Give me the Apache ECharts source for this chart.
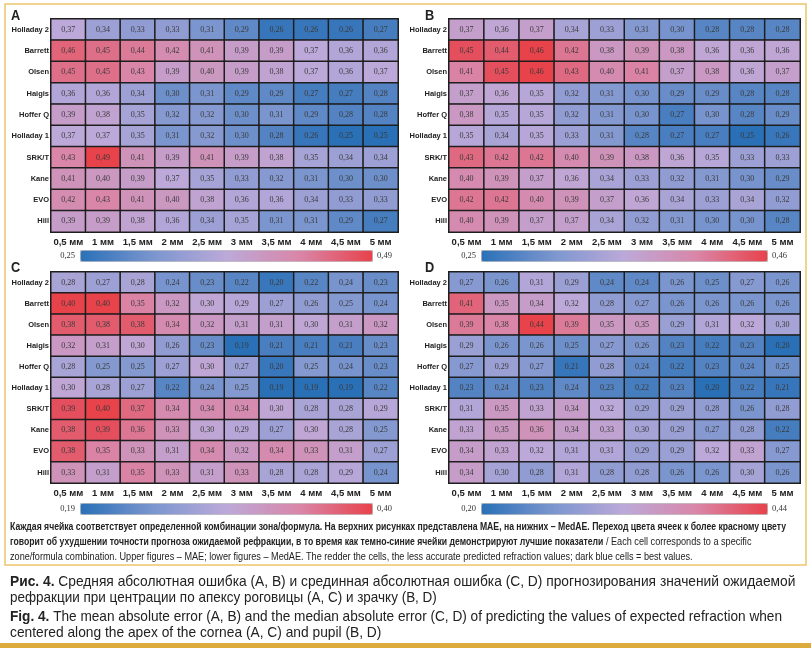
<!DOCTYPE html>
<html><head><meta charset="utf-8">
<script src="https://cdn.jsdelivr.net/npm/echarts@6/dist/echarts.min.js"></script>
<style>html,body{margin:0;padding:0;background:#fff}#c{width:811px;height:648px}</style>
</head><body><div id="c"></div>
<script>
const formulas = ['Holladay 2','Barrett','Olsen','Haigis','Hoffer Q','Holladay 1','SRK/T','Kane','EVO','Hill'];
const zones = ['0,5 мм','1 мм','1,5 мм','2 мм','2,5 мм','3 мм','3,5 мм','4 мм','4,5 мм','5 мм'];

const maeApex = [
 [0.37,0.34,0.33,0.33,0.31,0.29,0.26,0.26,0.26,0.27],
 [0.46,0.45,0.44,0.42,0.41,0.39,0.39,0.37,0.36,0.36],
 [0.45,0.45,0.43,0.39,0.40,0.39,0.38,0.37,0.36,0.37],
 [0.36,0.36,0.34,0.30,0.31,0.29,0.29,0.27,0.27,0.28],
 [0.39,0.38,0.35,0.32,0.32,0.30,0.31,0.29,0.28,0.28],
 [0.37,0.37,0.35,0.31,0.32,0.30,0.28,0.26,0.25,0.25],
 [0.43,0.49,0.41,0.39,0.41,0.39,0.38,0.35,0.34,0.34],
 [0.41,0.40,0.39,0.37,0.35,0.33,0.32,0.31,0.30,0.30],
 [0.42,0.43,0.41,0.40,0.38,0.36,0.36,0.34,0.33,0.33],
 [0.39,0.39,0.38,0.36,0.34,0.35,0.31,0.31,0.29,0.27]
];
const maePupil = [
 [0.37,0.36,0.37,0.34,0.33,0.31,0.30,0.28,0.28,0.28],
 [0.45,0.44,0.46,0.42,0.38,0.39,0.38,0.36,0.36,0.36],
 [0.41,0.45,0.46,0.43,0.40,0.41,0.37,0.38,0.36,0.37],
 [0.37,0.36,0.35,0.32,0.31,0.30,0.29,0.29,0.28,0.28],
 [0.38,0.35,0.35,0.32,0.31,0.30,0.27,0.30,0.28,0.29],
 [0.35,0.34,0.35,0.33,0.31,0.28,0.27,0.27,0.25,0.26],
 [0.43,0.42,0.42,0.40,0.39,0.38,0.36,0.35,0.33,0.33],
 [0.40,0.39,0.37,0.36,0.34,0.33,0.32,0.31,0.30,0.29],
 [0.42,0.42,0.40,0.39,0.37,0.36,0.34,0.33,0.34,0.32],
 [0.40,0.39,0.37,0.37,0.34,0.32,0.31,0.30,0.30,0.28]
];
const medaeApex = [
 [0.28,0.27,0.28,0.24,0.23,0.22,0.20,0.22,0.24,0.23],
 [0.40,0.40,0.35,0.32,0.30,0.29,0.27,0.26,0.25,0.24],
 [0.38,0.38,0.38,0.34,0.32,0.31,0.31,0.30,0.31,0.32],
 [0.32,0.31,0.30,0.26,0.23,0.19,0.21,0.21,0.21,0.23],
 [0.28,0.25,0.25,0.27,0.30,0.27,0.20,0.25,0.24,0.23],
 [0.30,0.28,0.27,0.22,0.24,0.25,0.19,0.19,0.19,0.22],
 [0.39,0.40,0.37,0.34,0.34,0.34,0.30,0.28,0.28,0.29],
 [0.38,0.39,0.36,0.33,0.30,0.29,0.27,0.30,0.28,0.25],
 [0.38,0.35,0.33,0.31,0.34,0.32,0.34,0.33,0.31,0.27],
 [0.33,0.31,0.35,0.33,0.31,0.33,0.28,0.28,0.29,0.24]
];
const medaePupil = [
 [0.27,0.26,0.31,0.29,0.24,0.24,0.26,0.25,0.27,0.26],
 [0.41,0.35,0.34,0.32,0.28,0.27,0.26,0.26,0.26,0.26],
 [0.39,0.38,0.44,0.39,0.35,0.35,0.29,0.31,0.32,0.30],
 [0.29,0.26,0.26,0.25,0.27,0.26,0.23,0.22,0.23,0.20],
 [0.27,0.29,0.27,0.21,0.28,0.24,0.22,0.23,0.24,0.25],
 [0.23,0.24,0.23,0.24,0.23,0.22,0.23,0.20,0.22,0.21],
 [0.31,0.35,0.33,0.34,0.32,0.29,0.29,0.28,0.26,0.28],
 [0.33,0.35,0.36,0.34,0.33,0.30,0.29,0.27,0.28,0.22],
 [0.34,0.33,0.32,0.31,0.31,0.29,0.29,0.32,0.33,0.27],
 [0.34,0.30,0.28,0.31,0.28,0.28,0.26,0.26,0.30,0.26]
];
const scaleMin = [0.25, 0.25, 0.19, 0.20];
const scaleMax = [0.49, 0.46, 0.40, 0.44];
const panelLetters = ['A','B','C','D'];

const matrices = [maeApex, maePupil, medaeApex, medaePupil];
const palette = ['#2a70b7','#7b96cf','#bca9d9','#d986a8','#e8424b'];
const dark = '#1e1e1e';
const sans = "'Liberation Sans',sans-serif";

const layout = [
  {left:51, top:19, width:347, height:213, barLeft:80, barLen:292, barTop:250, letterX:11, letterY:8},
  {left:449, top:19, width:351, height:213, barLeft:481, barLen:286, barTop:250, letterX:425, letterY:8},
  {left:51, top:272, width:347, height:211, barLeft:80, barLen:292, barTop:503, letterX:11, letterY:260},
  {left:449, top:272, width:351, height:211, barLeft:481, barLen:286, barTop:503, letterX:425, letterY:260}
];

const fmt = v => v.toFixed(2).replace('.', ',');
const grids=[], xAxes=[], yAxes=[], series=[], vms=[], graphics=[];
matrices.forEach((m, i) => {
  const L = layout[i];
  grids.push({left:L.left, top:L.top, width:L.width, height:L.height, show:true, borderColor:dark, borderWidth:2, backgroundColor:dark});
  xAxes.push({type:'category', gridIndex:i, data:zones, axisLine:{show:false}, axisTick:{show:false}, splitLine:{show:false},
    axisLabel:{interval:0, margin:5, fontFamily:sans, fontWeight:'bold', fontSize:9.5, color:'#222'}});
  yAxes.push({type:'category', gridIndex:i, data:formulas, inverse:true, axisLine:{show:false}, axisTick:{show:false}, splitLine:{show:false},
    axisLabel:{interval:0, margin:2, fontFamily:sans, fontWeight:'bold', fontSize:7.5, color:'#222'}});
  const data = [];
  m.forEach((row, r) => row.forEach((v, c) => data.push([c, r, v])));
  series.push({type:'heatmap', xAxisIndex:i, yAxisIndex:i, data:data,
    itemStyle:{borderColor:dark, borderWidth:1.5},
    label:{show:true, formatter:p => fmt(p.value[2]), fontFamily:"'Liberation Serif',serif", fontSize:8, color:'#3a3a3a'},
    emphasis:{disabled:true}});
  vms.push({type:'continuous', seriesIndex:i, min:scaleMin[i], max:scaleMax[i], orient:'horizontal',
    left:L.barLeft, top:L.barTop, itemWidth:11, itemHeight:L.barLen, calculable:false, realtime:false, padding:0,
    borderColor:'#bbb', borderWidth:1, showLabel:false, text:null, inRange:{color:palette}});
  graphics.push({type:'text', x:L.barLeft-5, y:L.barTop+6, style:{text:fmt(scaleMin[i]), fontFamily:"'Liberation Serif',serif", fontSize:8.5, fill:'#333', align:'right', verticalAlign:'middle'}});
  graphics.push({type:'text', x:L.barLeft+L.barLen+5, y:L.barTop+6, style:{text:fmt(scaleMax[i]), fontFamily:"'Liberation Serif',serif", fontSize:8.5, fill:'#333', align:'left', verticalAlign:'middle'}});
  graphics.push({type:'text', x:L.letterX, y:L.letterY, scaleX:0.85, style:{text:panelLetters[i], fontFamily:sans, fontWeight:'bold', fontSize:15, fill:'#222'}});
});

// frame + captions
graphics.push({type:'rect', shape:{x:5, y:4, width:801, height:561}, style:{fill:'none', stroke:'#ecc56a', lineWidth:1.5}, z:-1});
graphics.push({type:'rect', shape:{x:0, y:643, width:811, height:5}, style:{fill:'#dcab3c'}});

const measure = (() => { const cv = document.createElement('canvas').getContext('2d');
  return (txt, font) => { cv.font = font; return cv.measureText(txt).width; }; })();

const boldScale = 0.865, regScale = 0.912;
const cap1 = 'Каждая ячейка соответствует определенной комбинации зона/формула. На верхних рисунках представлена MAE, на нижних – MedAE. Переход цвета ячеек к более красному цвету';
const cap2b = 'говорит об ухудшении точности прогноза ожидаемой рефракции, в то время как темно-синие ячейки демонстрируют лучшие показатели';
const cap2r = ' / Each cell corresponds to a specific';
const cap3 = 'zone/formula combination. Upper figures – MAE; lower figures – MedAE. The redder the cells, the less accurate predicted refraction values; dark blue cells = best values.';
const capText = (x, y, t, bold, sc) => graphics.push({type:'text', x:x, y:y, scaleX:sc,
  style:{text:t, fontFamily:sans, fontWeight:bold?'bold':'normal', fontSize:10, fill:'#222', verticalAlign:'middle'}});
capText(10, 527, cap1, true, boldScale);
capText(10, 542, cap2b, true, boldScale);
const w2 = measure(cap2b, "bold 10px 'Liberation Sans'") * boldScale;
capText(10 + w2, 542, cap2r, false, regScale);
capText(10, 557, cap3, false, regScale);

const figLines = [
  {y:582, sc:0.95, text:'{b|Рис. 4.} Средняя абсолютная ошибка (A, B) и срединная абсолютная ошибка (C, D) прогнозирования значений ожидаемой'},
  {y:598, sc:0.93, text:'рефракции при центрации по апексу роговицы (A, C) и зрачку (B, D)'},
  {y:617, sc:0.94, text:'{b|Fig. 4.} The mean absolute error (A, B) and the median absolute error (C, D) of predicting the values of expected refraction when'},
  {y:633, sc:0.95, text:'centered along the apex of the cornea (A, C) and pupil (B, D)'}
];
figLines.forEach(c => graphics.push({type:'text', x:10, y:c.y, scaleX:c.sc, style:{text:c.text, fontFamily:sans, fontSize:14.5, fill:'#222', verticalAlign:'middle', rich:{b:{fontFamily:sans, fontWeight:'bold', fontSize:14.5, fill:'#222'}}}}));

const chart = echarts.init(document.getElementById('c'), null, {renderer:'canvas'});
chart.setOption({animation:false, backgroundColor:'#fff', grid:grids, xAxis:xAxes, yAxis:yAxes, visualMap:vms, series:series, graphic:graphics});
</script></body></html>
